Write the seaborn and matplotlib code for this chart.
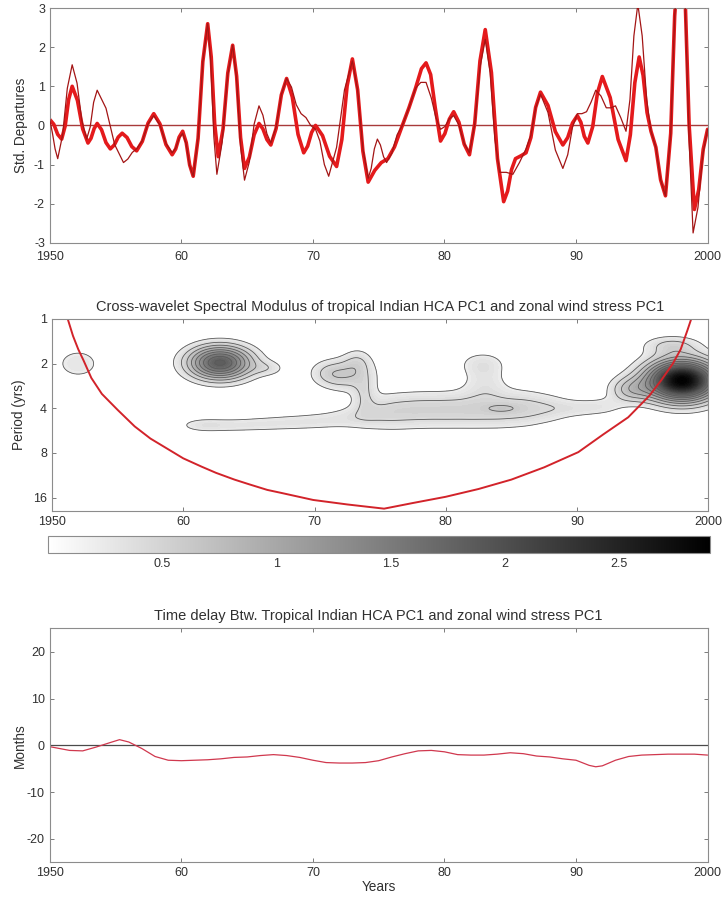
"""
Cross-wavelet summary: PC1 time series, cross-wavelet modulus and time delay.
"""

import numpy as np
import pandas as pd
import matplotlib
matplotlib.use("Agg")
import matplotlib.pyplot as plt
from matplotlib.ticker import NullLocator
from matplotlib.cm import ScalarMappable
from matplotlib.colors import Normalize
import seaborn as sns

# ---- top panel: standardized PC1 series (thick = HCA, thin = wind stress)
thick_year = [1950.0, 1950.3, 1950.6, 1950.9, 1951.17, 1951.43, 1951.7, 1952.1, 1952.5, 1952.9,
              1953.13, 1953.37, 1953.6, 1953.93, 1954.27, 1954.6, 1954.9, 1955.2, 1955.5, 1955.87,
              1956.23, 1956.6, 1957.03, 1957.47, 1957.9, 1958.37, 1958.83, 1959.3, 1959.57, 1959.83,
              1960.1, 1960.37, 1960.63, 1960.9, 1961.27, 1961.63, 1962.0, 1962.27, 1962.53, 1962.8,
              1963.17, 1963.53, 1963.9, 1964.2, 1964.5, 1964.8, 1965.17, 1965.53, 1965.9, 1966.2,
              1966.5, 1966.8, 1967.2, 1967.6, 1968.0, 1968.43, 1968.87, 1969.3, 1969.6, 1969.9,
              1970.2, 1970.73, 1971.27, 1971.8, 1972.2, 1972.6, 1973.0, 1973.4, 1973.8, 1974.2,
              1974.7, 1975.2, 1975.7, 1976.2, 1976.8, 1977.3, 1977.8, 1978.25, 1978.6, 1978.95,
              1979.3, 1979.7, 1980.03, 1980.37, 1980.7, 1981.1, 1981.5, 1981.9, 1982.3, 1982.7,
              1983.1, 1983.57, 1984.03, 1984.5, 1984.8, 1985.1, 1985.4, 1985.8, 1986.2, 1986.57,
              1986.93, 1987.3, 1987.87, 1988.43, 1989.0, 1989.37, 1989.73, 1990.1, 1990.37, 1990.63,
              1990.9, 1991.27, 1991.63, 1992.0, 1992.6, 1993.2, 1993.8, 1994.13, 1994.47, 1994.8,
              1995.1, 1995.4, 1995.7, 1996.07, 1996.43, 1996.8, 1997.2, 1997.5, 1997.9, 1998.3,
              1998.6, 1999.0, 1999.33, 1999.67, 2000.0]
thick_val = [0.15, 0.03, -0.23, -0.35, -0.01, 0.66, 1.0, 0.64, -0.09, -0.45,
             -0.33, -0.08, 0.05, -0.11, -0.44, -0.6, -0.5, -0.3, -0.2, -0.31,
             -0.54, -0.65, -0.41, 0.06, 0.3, 0.04, -0.49, -0.75, -0.6, -0.3,
             -0.15, -0.44, -1.01, -1.3, -0.33, 1.63, 2.6, 1.75, 0.05, -0.8,
             -0.09, 1.34, 2.05, 1.26, -0.31, -1.1, -0.81, -0.24, 0.05, -0.09,
             -0.36, -0.5, -0.08, 0.78, 1.2, 0.73, -0.23, -0.7, -0.53, -0.18,
             0.0, -0.26, -0.79, -1.05, -0.36, 1.01, 1.7, 0.91, -0.66, -1.45,
             -1.15, -0.95, -0.85, -0.55, 0.0, 0.45, 0.95, 1.45, 1.6, 1.3,
             0.45, -0.4, -0.21, 0.16, 0.35, 0.08, -0.48, -0.75, 0.05, 1.65,
             2.45, 1.35, -0.85, -1.95, -1.68, -1.13, -0.85, -0.78, -0.7, -0.31,
             0.46, 0.85, 0.51, -0.16, -0.5, -0.31, 0.06, 0.25, 0.08, -0.28,
             -0.45, -0.03, 0.83, 1.25, 0.71, -0.36, -0.9, -0.24, 1.09, 1.75,
             1.28, 0.33, -0.15, -0.56, -1.39, -1.8, -0.2, 2.8, 4.8, 3.2,
             0.0, -2.15, -1.64, -0.61, -0.1]

thin_year = [1950.0, 1950.2, 1950.4, 1950.6, 1950.97, 1951.33, 1951.7, 1952.07, 1952.43, 1952.8,
             1953.07, 1953.33, 1953.6, 1954.27, 1954.93, 1955.6, 1955.93, 1956.27, 1956.6, 1957.03,
             1957.47, 1957.9, 1958.37, 1958.83, 1959.3, 1959.57, 1959.83, 1960.1, 1960.37, 1960.63,
             1960.9, 1961.27, 1961.63, 1962.0, 1962.23, 1962.47, 1962.7, 1963.1, 1963.5, 1963.9,
             1964.2, 1964.5, 1964.8, 1965.17, 1965.53, 1965.9, 1966.2, 1966.5, 1966.8, 1967.2,
             1967.6, 1968.0, 1968.37, 1968.73, 1969.1, 1969.47, 1969.83, 1970.2, 1970.53, 1970.87,
             1971.2, 1971.8, 1972.4, 1973.0, 1973.4, 1973.8, 1974.2, 1974.43, 1974.67, 1974.9,
             1975.13, 1975.37, 1975.6, 1976.0, 1976.4, 1976.8, 1977.3, 1977.8, 1978.2, 1978.6,
             1979.0, 1979.35, 1979.7, 1980.03, 1980.37, 1980.7, 1981.1, 1981.5, 1981.9, 1982.3,
             1982.7, 1983.1, 1983.47, 1983.83, 1984.2, 1984.7, 1985.2, 1985.7, 1986.2, 1986.57,
             1986.93, 1987.3, 1987.87, 1988.43, 1989.0, 1989.37, 1989.73, 1990.1, 1990.45, 1990.8,
             1991.15, 1991.5, 1991.9, 1992.3, 1992.65, 1993.0, 1993.4, 1993.8, 1994.1, 1994.4,
             1994.7, 1995.03, 1995.37, 1995.7, 1996.07, 1996.43, 1996.8, 1997.2, 1997.5, 1997.9,
             1998.3, 1998.6, 1998.9, 1999.27, 1999.63, 2000.0]
thin_val = [0.15, -0.2, -0.6, -0.85, -0.25, 0.95, 1.55, 1.08, 0.13, -0.35,
            -0.04, 0.59, 0.9, 0.44, -0.49, -0.95, -0.86, -0.69, -0.6, -0.39,
            0.04, 0.25, 0.01, -0.46, -0.7, -0.58, -0.33, -0.2, -0.48, -1.03,
            -1.3, -0.33, 1.63, 2.6, 1.64, -0.29, -1.25, -0.43, 1.23, 2.05,
            1.19, -0.54, -1.4, -0.93, 0.03, 0.5, 0.26, -0.21, -0.45, -0.04,
            0.79, 1.2, 0.98, 0.53, 0.3, 0.2, 0.0, -0.1, -0.4, -1.0,
            -1.3, -0.56, 0.91, 1.65, 0.9, -0.6, -1.35, -1.1, -0.6, -0.35,
            -0.5, -0.8, -0.95, -0.71, -0.24, 0.0, 0.45, 0.95, 1.1, 1.1,
            0.7, 0.2, -0.1, -0.03, 0.17, 0.25, 0.01, -0.46, -0.7, 0.03,
            1.48, 2.2, 1.35, -0.35, -1.2, -1.2, -1.25, -0.95, -0.6, -0.25,
            0.45, 0.8, 0.33, -0.63, -1.1, -0.75, -0.05, 0.3, 0.3, 0.35,
            0.6, 0.9, 0.75, 0.45, 0.45, 0.5, 0.2, -0.15, 0.66, 2.29,
            3.1, 2.29, 0.66, -0.15, -0.56, -1.39, -1.8, -0.2, 2.8, 4.8,
            3.0, -0.4, -2.75, -2.1, -0.76, -0.1]

# ---- middle panel: cross-wavelet modulus features
# (centre year, centre period in yrs, peak modulus, width in years, width in octaves)
blob_year   = [1952.0, 1962.8, 1966.5,
               1971.0, 1972.5, 1973.3, 1973.8,
               1961.0, 1962.0, 1964.0, 1966.0, 1968.0, 1970.0, 1972.0,
               1974.0, 1976.0, 1978.0, 1980.0, 1982.0, 1984.0, 1986.0, 1988.0,
               1990.0, 1992.0, 1984.3,
               1982.8, 1983.0,
               1998.0, 1994.0, 1997.2]
blob_period = [2.0, 1.97, 2.15,
               2.3, 2.4, 1.9, 3.2,
               5.2, 5.2, 5.2, 5.1, 5.0, 4.9, 4.7,
               4.4, 4.2, 4.1, 4.1, 4.1, 4.1, 4.0, 4.0,
               4.0, 3.9, 4.0,
               2.0, 2.7,
               2.6, 3.0, 1.5]
blob_peak   = [0.3, 1.85, 0.25,
               0.24, 0.5, 0.28, 0.28,
               0.15, 0.21, 0.21, 0.21, 0.21, 0.21, 0.21,
               0.3, 0.34, 0.34, 0.34, 0.34, 0.34, 0.34, 0.27,
               0.22, 0.22, 0.14,
               0.3, 0.24,
               2.9, 0.55, 0.4]
blob_wyear  = [1.3, 1.68, 0.9,
               1.0, 1.5, 0.8, 0.6,
               1.2, 1.2, 1.2, 1.2, 1.2, 1.2, 1.2,
               1.2, 1.2, 1.2, 1.2, 1.2, 1.2, 1.2, 1.2,
               1.2, 1.2, 0.9,
               1.3, 1.2,
               1.9, 1.1, 1.5]
blob_woct   = [0.26, 0.26, 0.12,
               0.2, 0.25, 0.2, 0.25,
               0.11, 0.11, 0.12, 0.13, 0.14, 0.15, 0.17,
               0.25, 0.3, 0.3, 0.3, 0.3, 0.3, 0.3, 0.25,
               0.15, 0.15, 0.07,
               0.2, 0.25,
               0.32, 0.2, 0.15]

# cone of influence
coi_year = [1951.2, 1951.6, 1952.0, 1952.4, 1953.0, 1953.8, 1955.0, 1956.3, 1957.5, 1958.9,
            1960.0, 1961.4, 1962.5, 1963.9, 1965.0, 1966.4, 1967.5, 1969.9, 1972.5, 1975.3,
            1977.5, 1980.0, 1982.5, 1985.0, 1987.5, 1990.1, 1992.0, 1993.9, 1995.5, 1996.4,
            1997.3, 1997.9, 1998.4, 1998.7]
coi_period = [1.0, 1.3, 1.6, 1.9, 2.5, 3.2, 4.1, 5.3, 6.4, 7.6,
              8.7, 9.9, 10.9, 12.1, 13.0, 14.2, 14.9, 16.6, 17.8, 19.0,
              17.4, 15.8, 14.0, 12.1, 10.0, 7.9, 6.0, 4.6, 3.3, 2.6,
              2.0, 1.6, 1.2, 1.0]

# ---- bottom panel: time delay (months)
delay_year = [1950, 1951.5, 1952.5, 1953.5, 1954.5, 1955.3, 1956, 1957, 1958, 1959,
              1960, 1961, 1962, 1963, 1964, 1965, 1966, 1967, 1968, 1969,
              1970, 1971, 1972, 1973, 1974, 1975, 1976, 1977, 1978, 1979,
              1980, 1981, 1982, 1983, 1984, 1985, 1986, 1987, 1988, 1989,
              1990, 1991, 1991.5, 1992, 1993, 1994, 1995, 1996, 1997, 1998,
              1999, 2000]
delay_months = [-0.3, -1.1, -1.2, -0.4, 0.5, 1.2, 0.7, -0.7, -2.4, -3.2,
                -3.3, -3.2, -3.1, -2.9, -2.6, -2.5, -2.2, -2.0, -2.2, -2.6,
                -3.2, -3.7, -3.8, -3.8, -3.7, -3.3, -2.5, -1.8, -1.2, -1.1,
                -1.4, -2.0, -2.1, -2.1, -1.9, -1.6, -1.8, -2.3, -2.5, -2.9,
                -3.2, -4.3, -4.6, -4.4, -3.2, -2.4, -2.1, -2.0, -1.9, -1.9,
                -1.9, -2.1]

year_ticks = [1950, 1960, 1970, 1980, 1990, 2000]
year_labels = ["1950", "60", "70", "80", "90", "2000"]

sns.set_style("white")
plt.rcParams["font.family"] = ["Liberation Sans", "DejaVu Sans"]
plt.rcParams["axes.unicode_minus"] = False

TXT = "#303030"
SPINE = "#8c8c8c"
TICK_FS = 9
LABEL_FS = 9.8
TITLE_FS = 10.5


def matlab_box(ax):
    for s in ax.spines.values():
        s.set_visible(True)
        s.set_color(SPINE)
        s.set_linewidth(0.8)
    ax.tick_params(direction="in", length=3, width=0.6, color="#666666",
                   bottom=True, left=True, top=True, right=True,
                   labelsize=TICK_FS, labelcolor=TXT)


fig = plt.figure(figsize=(7.22, 8.99), dpi=100)

# ---- top
ax1 = fig.add_axes([0.069, 0.730, 0.911, 0.261])
ax1.axhline(0, color="#a83a3a", lw=1.0, zorder=1)
sns.lineplot(x=thick_year, y=thick_val, ax=ax1, color="#e41a1c", lw=2.6, zorder=2)
sns.lineplot(x=thin_year, y=thin_val, ax=ax1, color="#a31515", lw=0.9, zorder=3)
ax1.set_xlim(1950, 2000)
ax1.set_ylim(-3, 3)
ax1.set_yticks(range(-3, 4))
ax1.set_xticks(year_ticks)
ax1.set_xticklabels(year_labels)
ax1.set_ylabel("Std. Departures", color=TXT, fontsize=LABEL_FS, labelpad=4)
matlab_box(ax1)
ax1.tick_params(axis="x", pad=6)

# ---- middle: cross-wavelet modulus
grid_year = np.linspace(1950, 2000, 401)
grid_oct = np.linspace(0, 4.35, 260)
GY, GO = np.meshgrid(grid_year, grid_oct)
field = np.zeros_like(GY)
for yr, per, pk, wy, wo in zip(blob_year, blob_period, blob_peak, blob_wyear, blob_woct):
    field += pk * np.exp(-((GY - yr) ** 2) / (2 * wy ** 2)
                         - ((GO - np.log2(per)) ** 2) / (2 * wo ** 2))

norm = Normalize(vmin=0, vmax=2.9)
ax2 = fig.add_axes([0.072, 0.4316, 0.909, 0.2136])
fill_levels = np.concatenate([[0.2], np.arange(0.25, 3.6, 0.05)])
ax2.contourf(GY, 2.0 ** GO, field, levels=fill_levels, cmap="gray_r", norm=norm)
ax2.contour(GY, 2.0 ** GO, field, levels=np.arange(0.2, 2.0, 0.2),
            colors="#5a5a5a", linewidths=0.6)
ax2.plot(coi_year, coi_period, color="#d2232a", lw=1.4)
ax2.set_yscale("log", base=2)
ax2.set_ylim(19.7, 1)
ax2.set_yticks([1, 2, 4, 8, 16])
ax2.set_yticklabels(["1", "2", "4", "8", "16"])
ax2.yaxis.set_minor_locator(NullLocator())
ax2.set_xlim(1950, 2000)
ax2.set_xticks(year_ticks)
ax2.set_xticklabels(year_labels)
ax2.set_ylabel("Period (yrs)", color=TXT, fontsize=LABEL_FS, labelpad=5)
ax2.set_title("Cross-wavelet Spectral Modulus of tropical Indian HCA PC1 and zonal wind stress PC1",
              fontsize=TITLE_FS, color=TXT, pad=6)
matlab_box(ax2)

cax = fig.add_axes([0.0665, 0.385, 0.917, 0.019])
cb = fig.colorbar(ScalarMappable(norm=norm, cmap="gray_r"), cax=cax, orientation="horizontal")
cb.set_ticks([0.5, 1, 1.5, 2, 2.5])
cb.set_ticklabels(["0.5", "1", "1.5", "2", "2.5"])
cb.outline.set_edgecolor(SPINE)
cb.outline.set_linewidth(0.8)
cax.tick_params(direction="in", length=12, width=0.7, color="#555555", bottom=True,
                labelsize=TICK_FS, labelcolor=TXT)

# ---- bottom: time delay
ax3 = fig.add_axes([0.069, 0.041, 0.911, 0.260])
ax3.axhline(0, color="#4a4a4a", lw=0.9, zorder=1)
delay_df = pd.DataFrame({"year": delay_year, "months": delay_months})
sns.lineplot(data=delay_df, x="year", y="months", ax=ax3, color="#d0384e", lw=0.9, zorder=2)
ax3.set_xlim(1950, 2000)
ax3.set_ylim(-25, 25)
ax3.set_yticks([-20, -10, 0, 10, 20])
ax3.set_xticks(year_ticks)
ax3.set_xticklabels(year_labels)
ax3.set_xlabel("Years", color=TXT, fontsize=LABEL_FS, labelpad=1)
ax3.set_ylabel("Months", color=TXT, fontsize=LABEL_FS, labelpad=0)
ax3.set_title("Time delay Btw. Tropical Indian HCA PC1 and zonal wind stress PC1",
              fontsize=TITLE_FS, color=TXT, pad=6)
matlab_box(ax3)

fig.savefig("out.png", dpi=100)
plt.close(fig)
